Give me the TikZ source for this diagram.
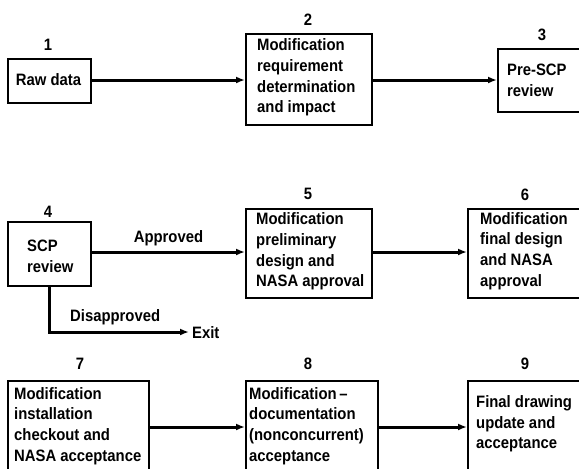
\documentclass[tikz,border=0pt]{standalone}
\usepackage{fontspec}
\setmainfont{Liberation Sans}[FakeStretch=0.9]
\usetikzlibrary{arrows.meta}
\begin{document}
\begin{tikzpicture}[x=1pt,y=-1pt,
  boxs/.style={draw, line width=2pt, inner sep=0pt, anchor=north west},
  txt/.style={anchor=west, align=left, inner sep=0pt, font=\fontsize{16.5}{20.7}\selectfont\bfseries},
  num/.style={inner sep=0pt, font=\fontsize{16.5}{18}\selectfont\bfseries},
  conn/.style={line width=3pt, -{Latex[length=9pt,width=7pt]}}]
\useasboundingbox (0,0) rectangle (579,469);
\clip (0,0) rectangle (579,469);
\fill[white] (0,0) rectangle (579,469);
% row 1
\node[boxs, minimum width=83pt, minimum height=44pt] (b1) at (7,58) {};
\node[boxs, minimum width=126pt, minimum height=91pt] (b2) at (245,33) {};
\node[boxs, minimum width=100pt, minimum height=63pt] (b3) at (497,48) {};
\node[txt, anchor=center] (t1) at (48.5,80) {Raw data};
\node[txt] (t2) at (257,77.5) {Modification\\requirement\\determination\\and impact};
\node[txt] (t3) at (507,80) {Pre-SCP\\review};
\node[num] (n1) at (48,45) {1};
\node[num] (n2) at (308,20) {2};
\node[num] (n3) at (542,35) {3};
% row 2
\node[boxs, minimum width=83pt, minimum height=64pt] (b4) at (7,221) {};
\node[boxs, minimum width=126pt, minimum height=89pt] (b5) at (245,208) {};
\node[boxs, minimum width=130pt, minimum height=89pt] (b6) at (467,208) {};
\node[txt] (t4) at (27,256) {SCP\\review};
\node[txt] (t5) at (256,251.5) {Modification\\preliminary\\design and\\NASA approval};
\node[txt] (t6) at (480,251) {Modification\\final design\\and NASA\\approval};
\node[num] (n4) at (48,212) {4};
\node[num] (n5) at (308,194) {5};
\node[num] (n6) at (525,195) {6};
% row 3
\node[boxs, minimum width=141pt, minimum height=100pt] (b7) at (7,380) {};
\node[boxs, minimum width=132pt, minimum height=100pt] (b8) at (245,380) {};
\node[boxs, minimum width=130pt, minimum height=100pt] (b9) at (467,380) {};
\node[txt] (t7) at (14,426) {Modification\\installation\\checkout and\\NASA acceptance};
\node[txt] (t8) at (249,426) {Modification\,--\\documentation\\(nonconcurrent)\\acceptance};
\node[txt] (t9) at (476,424) {Final drawing\\update and\\acceptance};
\node[num] (n7) at (80,364) {7};
\node[num] (n8) at (308,364) {8};
\node[num] (n9) at (525,364) {9};
% connectors
\draw[conn] (b1.east |- 0,80) -- (b2.west |- 0,80);
\draw[conn] (b2.east |- 0,80) -- (b3.west |- 0,80);
\draw[conn] (b4.east |- 0,252) -- node[txt, anchor=south, above=5pt] (ap) {Approved} (b5.west |- 0,252);
\draw[conn] (b5.east |- 0,252) -- (b6.west |- 0,252);
\draw[conn] (b7.east |- 0,427) -- (b8.west |- 0,427);
\draw[conn] (b8.east |- 0,427) -- (b9.west |- 0,427);
\coordinate (ex) at (189,332);
\node[txt] (exit) at (192,333) {Exit};
\draw[conn] (b4.south -| 49,0) |- (ex);
\node[txt] (dis) at (70,317) {Disapproved};
\end{tikzpicture}
\end{document}
